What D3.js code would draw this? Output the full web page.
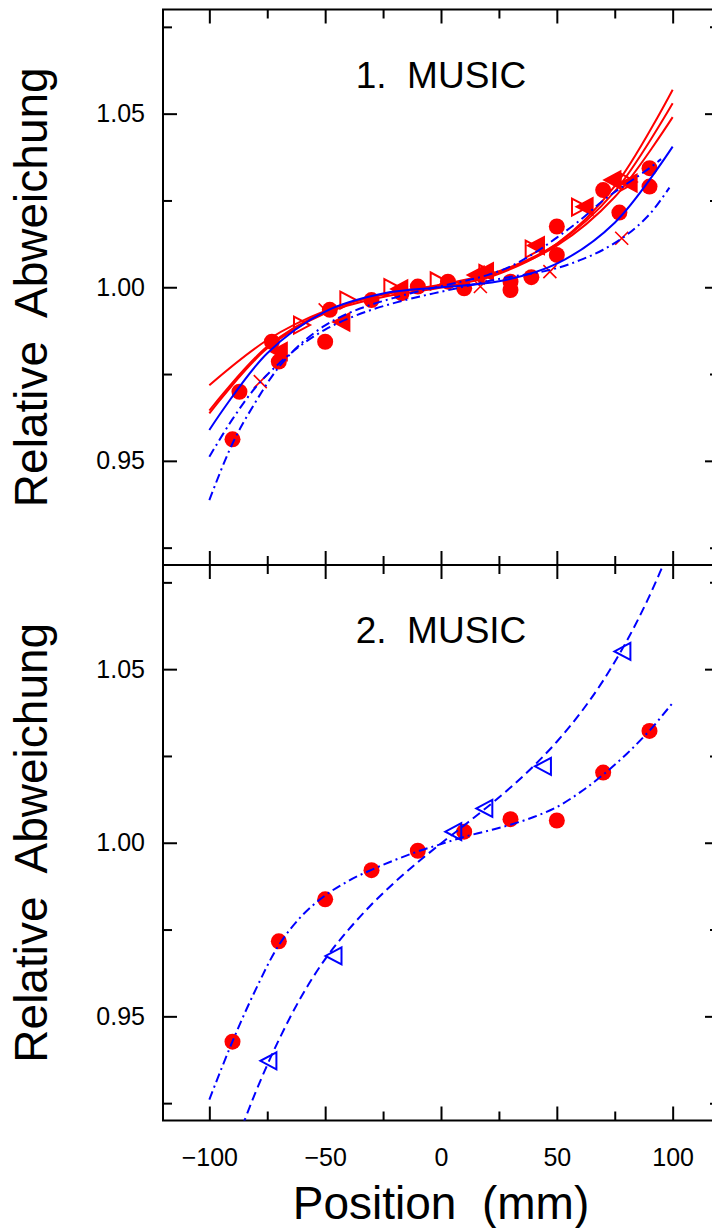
<!DOCTYPE html>
<html>
<head>
<meta charset="utf-8">
<script src="https://cdn.jsdelivr.net/npm/d3@7"></script>
<style>
  html, body { margin: 0; padding: 0; background: #fff; }
  svg { display: block; }
  text { font-family: "Liberation Sans", Arial, sans-serif; fill: #000; }
</style>
</head>
<body>
<svg id="chart" width="712" height="1228"></svg>
<script>
// ---- axis ticks ----
const xMajorTicks = [-100, -50, 0, 50, 100];
const xMinorTicks = [-75, -25, 25, 75];
const yMajorTicks = [0.95, 1.00, 1.05];
const yMinorTicks = [0.925, 0.975, 1.025, 1.075];

const panelTitles = ["1.  MUSIC", "2.  MUSIC"];
const yTitle = "Relative  Abweichung";
const xTitle = "Position  (mm)";

// ---- panel 1: measured points [position mm, relative deviation] ----
const p1CirclesA = [[-90,0.9562],[-70,0.9786],[-50,0.9843],[-30,0.9963],[-10,1.0002],[10,0.9997],[30,0.9992],[50,1.0093],[70,1.0280],[90,1.0290]];
const p1CirclesB = [[-87,0.9699],[-73,0.9843],[-48,0.9935],[-17,0.9983],[3,1.0016],[30,1.0016],[39,1.0029],[50,1.0175],[77,1.0215],[90,1.0343]];
const p1OpenRight = [[-60,0.9891],[-40,0.9963],[-21,0.9999],[-1,1.0018],[20,1.0040],[40,1.0110],[60,1.0231],[81,1.0303]];
const p1FilledLeft = [[-70,0.9815],[-43,0.9900],[-18,0.9995],[15,1.0035],[19,1.0045],[41,1.0120],[62,1.0232],[74,1.0309],[81,1.0300]];
const p1Crosses = [[-78,0.9728],[-50,0.9935],[17,1.0002],[47,1.0045],[78,1.0141]];

// ---- panel 1: fitted curves ----
const p1RedFitA = [[-100,0.9637],[-75,0.9824],[-50,0.9925],[-25,0.9972],[0,0.9999],[25,1.0039],[50,1.0125],[75,1.0291],[100,1.0569]];
const p1RedFitB = [[-100,0.9645],[-75,0.9829],[-50,0.9930],[-25,0.9979],[0,1.0008],[25,1.0046],[50,1.0125],[75,1.0276],[100,1.0530]];
const p1RedFitC = [[-100,0.9718],[-75,0.9848],[-50,0.9932],[-25,0.9979],[0,1.0005],[25,1.0044],[50,1.0120],[75,1.0260],[100,1.0490]];
const p1BlueFit = [[-100,0.9589],[-75,0.9810],[-50,0.9930],[-25,0.9982],[0,1.0000],[25,1.0017],[50,1.0068],[75,1.0186],[100,1.0405]];
const p1BlueDashDotA = [[-100,0.9387],[-90,0.9550],[-80,0.9670],[-70,0.9770],[-60,0.9840],[-50,0.9890],[-40,0.9925],[-30,0.9950],[-20,0.9970],[-10,0.9988],[0,1.0003],[10,1.0018],[20,1.0035],[30,1.0060],[40,1.0097],[50,1.0143],[60,1.0193],[70,1.0250],[80,1.0297],[90,1.0343],[95,1.0369]];
const p1BlueDashDotB = [[-100,0.9512],[-90,0.9620],[-80,0.9712],[-70,0.9780],[-60,0.9835],[-50,0.9878],[-40,0.9910],[-30,0.9935],[-20,0.9955],[-10,0.9972],[0,0.9987],[10,1.0002],[20,1.0017],[30,1.0030],[40,1.0040],[50,1.0055],[60,1.0078],[70,1.0108],[80,1.0150],[90,1.0210],[98.6,1.0287]];

// ---- panel 2: measured points ----
const p2Circles = [[-90,0.9427],[-70,0.9716],[-50,0.9837],[-30,0.9921],[-10,0.9977],[10,1.0032],[30,1.0068],[50,1.0064],[70,1.0202],[90,1.0322]];
const p2OpenLeft = [[-74.5,0.9372],[-46.4,0.9674],[5.3,1.0032],[18.7,1.0099],[44,1.0220],[78.3,1.0551]];

// ---- panel 2: fitted curves ----
const p2DashDot = [[-100,0.9260],[-90,0.9428],[-80,0.9577],[-70,0.9705],[-60,0.9790],[-50,0.9848],[-40,0.9890],[-30,0.9922],[-20,0.9950],[-10,0.9975],[0,0.9996],[10,1.0017],[20,1.0034],[30,1.0052],[40,1.0074],[50,1.0103],[60,1.0145],[70,1.0196],[80,1.0255],[90,1.0323],[100,1.0403]];
const p2Dashed = [[-90,0.9107],[-80,0.9282],[-70,0.9432],[-60,0.9560],[-50,0.9665],[-40,0.9749],[-30,0.9822],[-20,0.9886],[-10,0.9944],[0,0.9998],[10,1.0050],[20,1.0103],[30,1.0159],[40,1.0221],[50,1.0291],[60,1.0372],[70,1.0467],[80,1.0579],[90,1.0711],[100,1.0865]];

const RED = "#ff0000";
const BLUE = "#0000ff";

const svg = d3.select("#chart");

const x = d3.scaleLinear().domain([-120, 120]).range([163, 719]);
const yDomain = [0.92, 1.08];

const panels = [
  {top: 9.5, bottom: 565, title: panelTitles[0], xLabels: false},
  {top: 565, bottom: 1120.5, title: panelTitles[1], xLabels: true}
];

panels.forEach((p, i) => {
  p.y = d3.scaleLinear().domain(yDomain).range([p.bottom, p.top]);
  const g = svg.append("g").attr("class", "panel-" + (i + 1));
  p.g = g;

  g.append("clipPath").attr("id", "clip" + i)
    .append("rect")
    .attr("x", x.range()[0]).attr("y", p.top)
    .attr("width", x.range()[1] - x.range()[0]).attr("height", p.bottom - p.top);

  // frame
  g.append("rect")
    .attr("x", x.range()[0]).attr("y", p.top)
    .attr("width", x.range()[1] - x.range()[0]).attr("height", p.bottom - p.top)
    .attr("fill", "none").attr("stroke", "#000").attr("stroke-width", 2);

  const styleAxis = sel => {
    sel.select(".domain").remove();
    sel.selectAll(".tick line").attr("stroke", "#000").attr("stroke-width", 2);
    sel.selectAll(".tick text").attr("font-size", 25).attr("font-family", "Liberation Sans, Arial, sans-serif").attr("fill", "#000");
  };

  // left axis
  g.append("g").attr("transform", `translate(${x.range()[0]},0)`)
    .call(d3.axisLeft(p.y).tickValues(yMajorTicks).tickSize(-14).tickSizeOuter(0).tickPadding(18).tickFormat(d3.format(".2f")))
    .call(styleAxis);
  g.append("g").attr("transform", `translate(${x.range()[0]},0)`)
    .call(d3.axisLeft(p.y).tickValues(yMinorTicks).tickSize(-9).tickSizeOuter(0).tickFormat(""))
    .call(styleAxis);
  // right axis
  g.append("g").attr("transform", `translate(${x.range()[1]},0)`)
    .call(d3.axisRight(p.y).tickValues(yMajorTicks).tickSize(-14).tickSizeOuter(0).tickFormat(""))
    .call(styleAxis);
  g.append("g").attr("transform", `translate(${x.range()[1]},0)`)
    .call(d3.axisRight(p.y).tickValues(yMinorTicks).tickSize(-9).tickSizeOuter(0).tickFormat(""))
    .call(styleAxis);
  // top axis
  g.append("g").attr("transform", `translate(0,${p.top})`)
    .call(d3.axisTop(x).tickValues(xMajorTicks).tickSize(-14).tickSizeOuter(0).tickFormat(""))
    .call(styleAxis);
  g.append("g").attr("transform", `translate(0,${p.top})`)
    .call(d3.axisTop(x).tickValues(xMinorTicks).tickSize(-9).tickSizeOuter(0).tickFormat(""))
    .call(styleAxis);
  // bottom axis
  g.append("g").attr("transform", `translate(0,${p.bottom})`)
    .call(d3.axisBottom(x).tickValues(xMajorTicks).tickSize(-14).tickSizeOuter(0).tickPadding(28)
      .tickFormat(p.xLabels ? d3.format("d") : ""))
    .call(styleAxis);
  g.append("g").attr("transform", `translate(0,${p.bottom})`)
    .call(d3.axisBottom(x).tickValues(xMinorTicks).tickSize(-9).tickSizeOuter(0).tickFormat(""))
    .call(styleAxis);

  // panel title
  g.append("text")
    .attr("x", x(0)).attr("y", p.top + 78)
    .attr("text-anchor", "middle")
    .attr("font-size", 37)
    .style("white-space", "pre")
    .text(p.title);

  // y axis title
  g.append("text")
    .attr("transform", `translate(47,${(p.top + p.bottom) / 2}) rotate(-90)`)
    .attr("text-anchor", "middle")
    .attr("font-size", 46)
    .style("white-space", "pre")
    .text(yTitle);

  p.plot = g.append("g").attr("clip-path", `url(#clip${i})`);
});

// x axis title
svg.append("text")
  .attr("x", x(0)).attr("y", 1219)
  .attr("text-anchor", "middle")
  .attr("font-size", 46)
  .style("white-space", "pre")
  .text(xTitle);

// ---- mark helpers ----
function drawCircles(p, data, color) {
  p.plot.append("g").selectAll("circle").data(data).join("circle")
    .attr("cx", d => x(d[0])).attr("cy", d => p.y(d[1]))
    .attr("r", 8).attr("fill", color);
}
function trianglePath(dir, w, h) {
  // dir = 1 points right, -1 points left
  return `M${-dir * w / 2},${-h / 2}L${dir * w / 2},0L${-dir * w / 2},${h / 2}Z`;
}
function drawTriangles(p, data, dir, color, filled) {
  p.plot.append("g").selectAll("path").data(data).join("path")
    .attr("transform", d => `translate(${x(d[0])},${p.y(d[1])})`)
    .attr("d", trianglePath(dir, 16, 17))
    .attr("fill", filled ? color : "none")
    .attr("stroke", color).attr("stroke-width", 2)
    .attr("stroke-linejoin", "miter");
}
function drawCrosses(p, data, color) {
  const s = 6.5;
  p.plot.append("g").selectAll("path").data(data).join("path")
    .attr("transform", d => `translate(${x(d[0])},${p.y(d[1])})`)
    .attr("d", `M${-s},${-s}L${s},${s}M${-s},${s}L${s},${-s}`)
    .attr("fill", "none").attr("stroke", color).attr("stroke-width", 1.6);
}
function drawCurve(p, data, color, dash) {
  const line = d3.line().x(d => x(d[0])).y(d => p.y(d[1])).curve(d3.curveCatmullRom.alpha(0.5));
  p.plot.append("path").datum(data)
    .attr("d", line)
    .attr("fill", "none").attr("stroke", color).attr("stroke-width", 2)
    .attr("stroke-dasharray", dash || null);
}

const DASHDOT = "9,4,2,4";
const DASHED = "9,5";

// panel 1
const P1 = panels[0];
drawCircles(P1, p1CirclesA, RED);
drawCircles(P1, p1CirclesB, RED);
drawTriangles(P1, p1OpenRight, 1, RED, false);
drawTriangles(P1, p1FilledLeft, -1, RED, true);
drawCrosses(P1, p1Crosses, RED);
drawCurve(P1, p1RedFitA, RED);
drawCurve(P1, p1RedFitB, RED);
drawCurve(P1, p1RedFitC, RED);
drawCurve(P1, p1BlueFit, BLUE);
drawCurve(P1, p1BlueDashDotA, BLUE, DASHDOT);
drawCurve(P1, p1BlueDashDotB, BLUE, DASHDOT);

// panel 2
const P2 = panels[1];
drawCircles(P2, p2Circles, RED);
drawTriangles(P2, p2OpenLeft, -1, BLUE, false);
drawCurve(P2, p2DashDot, BLUE, DASHDOT);
drawCurve(P2, p2Dashed, BLUE, DASHED);
</script>
</body>
</html>
